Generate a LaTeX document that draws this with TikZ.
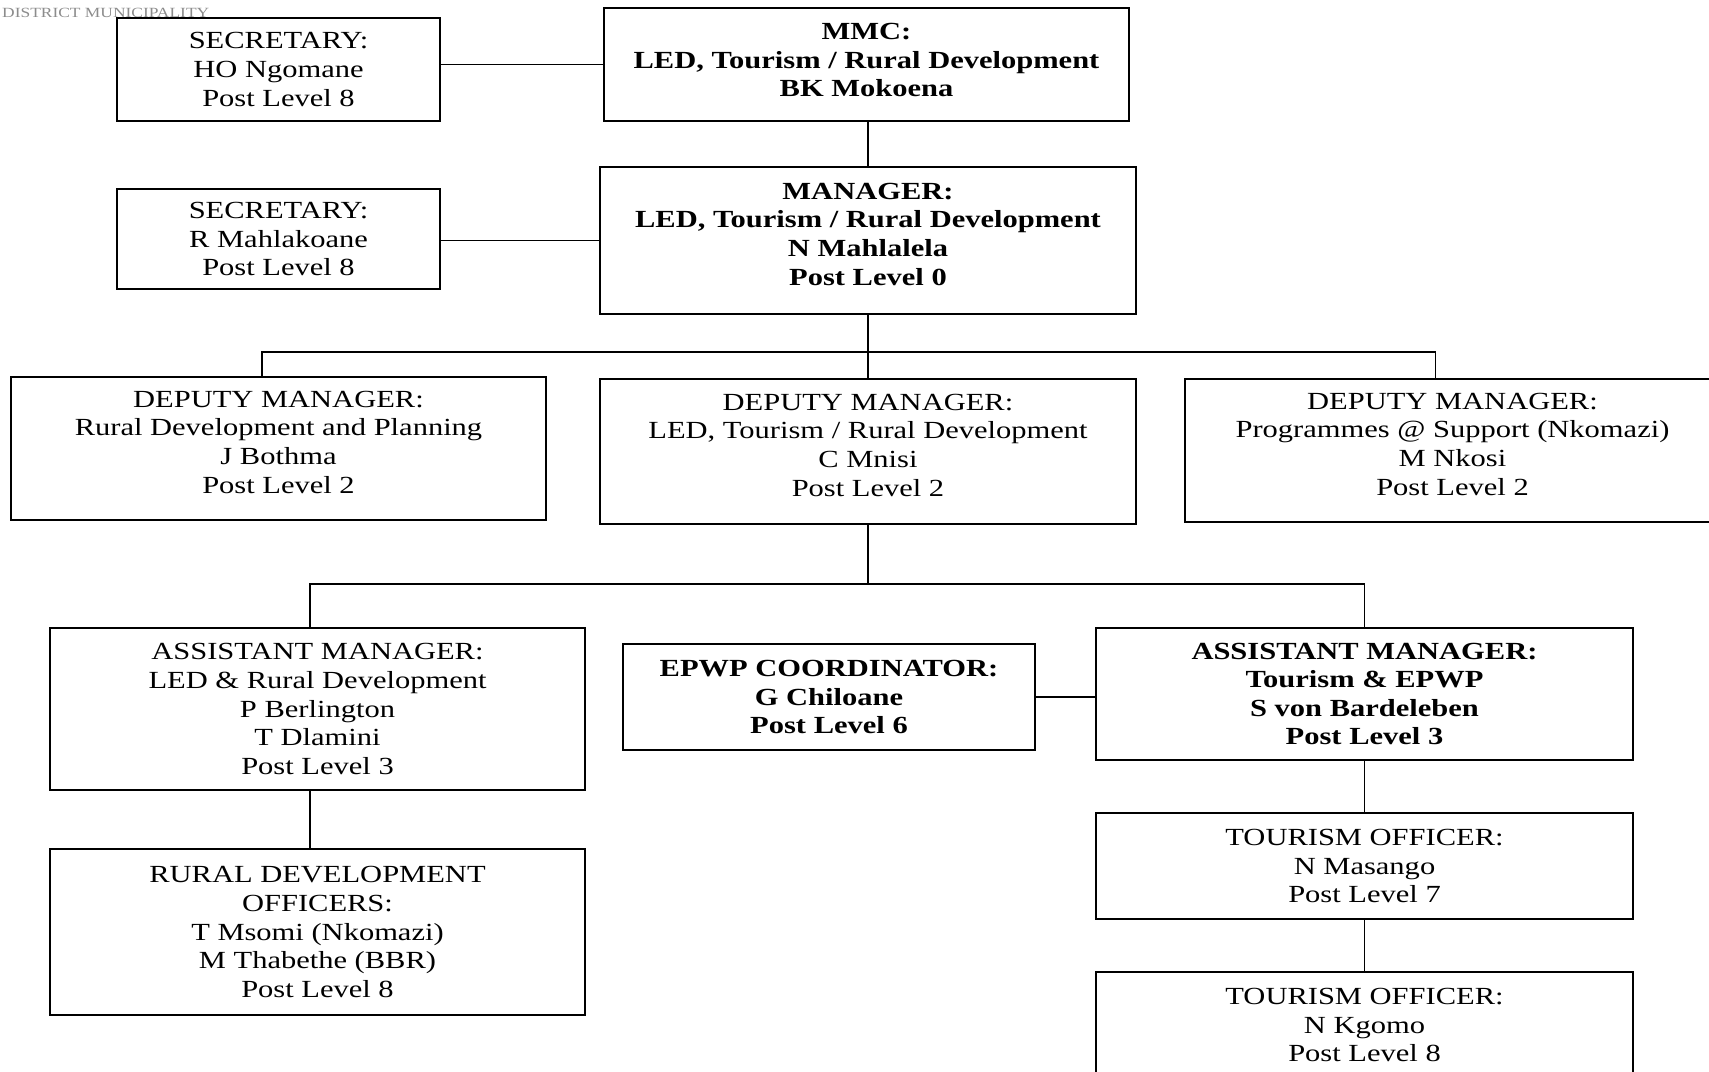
\documentclass[tikz,border=0pt]{standalone}
\usepackage{fontspec}
\setmainfont{Liberation Serif}[FakeStretch=1.24]
\tikzset{
  post/.style={draw, line width=1pt, align=center, inner sep=2pt, font=\fontsize{14}{16.3}\selectfont},
  head/.style={post, font=\fontsize{14}{16.3}\selectfont\bfseries},
  lifted/.style={text depth=#1},
  link/.style={line width=0.9pt}
}
\begin{document}
\begin{tikzpicture}[x=0.02cm,y=-0.02cm]
  \useasboundingbox (0,0) rectangle (1709,1071);
  \node[anchor=west, text=black!45, font=\fontsize{8}{10}\selectfont] (muni) at (-4,13) {DISTRICT MUNICIPALITY};

  % top level
  \node[post, minimum width=6.46cm, minimum height=2.06cm] (secA) at (278.5,69.5) {SECRETARY:\\HO Ngomane\\Post Level 8};
  \node[head, lifted=0.18cm, minimum width=10.5cm, minimum height=2.26cm] (mmc) at (866.5,64.5) {MMC:\\LED, Tourism / Rural Development\\BK Mokoena};
  \node[post, minimum width=6.46cm, minimum height=2.0cm] (secB) at (278.5,239) {SECRETARY:\\R Mahlakoane\\Post Level 8};
  \node[head, lifted=0.26cm, minimum width=10.72cm, minimum height=2.94cm] (manager) at (868,240.5) {MANAGER:\\LED, Tourism / Rural Development\\N Mahlalela\\Post Level 0};

  % deputy managers
  \node[post, lifted=0.26cm, minimum width=10.7cm, minimum height=2.86cm] (depA) at (278.5,448.5) {DEPUTY MANAGER:\\Rural Development and Planning\\J Bothma\\Post Level 2};
  \node[post, lifted=0.26cm, minimum width=10.72cm, minimum height=2.9cm] (depB) at (868,451.5) {DEPUTY MANAGER:\\LED, Tourism / Rural Development\\C Mnisi\\Post Level 2};
  \node[post, lifted=0.26cm, minimum width=10.7cm, minimum height=2.86cm] (depC) at (1452.5,450.5) {DEPUTY MANAGER:\\Programmes @ Support (Nkomazi)\\M Nkosi\\Post Level 2};

  % assistant managers
  \node[post, minimum width=10.7cm, minimum height=3.24cm] (asstA) at (317.5,709) {ASSISTANT MANAGER:\\LED \& Rural Development\\P Berlington\\T Dlamini\\Post Level 3};
  \node[head, minimum width=8.24cm, minimum height=2.12cm] (epwp) at (829,697) {EPWP COORDINATOR:\\G Chiloane\\Post Level 6};
  \node[head, minimum width=10.74cm, minimum height=2.64cm] (asstB) at (1364.5,694) {ASSISTANT MANAGER:\\Tourism \& EPWP\\S von Bardeleben\\Post Level 3};

  % officers
  \node[post, minimum width=10.7cm, minimum height=3.32cm] (rdo) at (317.5,932) {RURAL DEVELOPMENT\\OFFICERS:\\T Msomi (Nkomazi)\\M Thabethe (BBR)\\Post Level 8};
  \node[post, minimum width=10.74cm, minimum height=2.12cm] (tourA) at (1364.5,866) {TOURISM OFFICER:\\N Masango\\Post Level 7};
  \node[post, minimum width=10.74cm, minimum height=2.12cm] (tourB) at (1364.5,1025) {TOURISM OFFICER:\\N Kgomo\\Post Level 8};

  % connectors
  \coordinate (busA) at (0,352);
  \coordinate (busB) at (0,584);
  \coordinate (dropA) at ([xshift=-0.33cm]depA.north);
  \coordinate (dropB) at ([xshift=-0.15cm]asstA.north);
  \coordinate (dropC) at ([xshift=-0.34cm]depC.north);
  \draw[link] (mmc.west -| secA.east) -- (mmc.west);
  \draw[link] (manager.west -| secB.east) -- (manager.west);
  \draw[link] (mmc.south -| manager.north) -- (manager.north);
  \draw[link] (manager.south) -- (depB.north);
  \draw[link] (dropA) |- (busA -| dropC) -- (dropC);
  \draw[link] (depB.south) -- (depB.south |- busB);
  \draw[link] (dropB) |- (busB -| asstB.north) -- (asstB.north);
  \draw[link] (epwp.east) -- (epwp.east -| asstB.west);
  \draw[link] (asstA.south -| dropB) -- (rdo.north -| dropB);
  \draw[link] (asstB.south) -- (tourA.north);
  \draw[link] (tourA.south) -- (tourB.north);
\end{tikzpicture}
\end{document}
